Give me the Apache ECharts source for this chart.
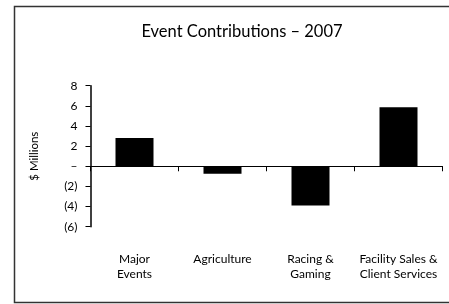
<!DOCTYPE html>
<html>
<head>
<meta charset="utf-8">
<script src="https://cdn.jsdelivr.net/npm/echarts@6/dist/echarts.min.js"></script>
<style>
  html, body { margin: 0; padding: 0; background: #fff; }
  #chart { width: 449px; height: 304px; }
</style>
</head>
<body>
<div id="chart"></div>
<script>
var categories = ['Major\nEvents', 'Agriculture', 'Racing &\nGaming', 'Facility Sales &\nClient Services'];
var contributions = [2.8, -0.75, -3.9, 5.85];
var yTickLabels = {'8': '8', '6': '6', '4': '4', '2': '2', '0': '–', '-2': '(2)', '-4': '(4)', '-6': '(6)'};

var chart = echarts.init(document.getElementById('chart'));
var font = 'Lato, "Noto Sans", sans-serif';

chart.setOption({
    animation: false,
    textStyle: { fontFamily: font, color: '#000' },
    title: {
        text: 'Event Contributions – 2007',
        left: 237,
        top: 18,
        textAlign: 'center',
        textStyle: { fontFamily: font, fontSize: 16.5, fontWeight: 'normal', color: '#000' }
    },
    // frame round the chart (no right edge in the reference)
    graphic: [{
        type: 'polyline',
        shape: { points: [[460, 6.5], [14.5, 6.5], [14.5, 302.5], [460, 302.5]] },
        style: { stroke: '#333', lineWidth: 1.5, fill: null },
        silent: true
    }],
    grid: { left: 90.5, right: 6.5, top: 85.7, bottom: 77.3, containLabel: false, outerBoundsMode: 'none' },
    xAxis: {
        type: 'category',
        data: categories,
        axisLine: { onZero: true, lineStyle: { color: '#000', width: 1 } },
        axisTick: { show: true, length: 5, lineStyle: { color: '#000' } },
        axisLabel: { margin: 25, fontSize: 12, color: '#000', fontFamily: font, lineHeight: 15, interval: 0 },
        splitLine: { show: false }
    },
    yAxis: {
        type: 'value',
        min: -6,
        max: 8,
        interval: 2,
        name: '$ Millions',
        nameLocation: 'middle',
        nameGap: 50,
        nameRotate: 90,
        nameTextStyle: { fontSize: 11.5, color: '#000', fontFamily: font },
        axisLine: { show: true, lineStyle: { color: '#000', width: 1.5 } },
        axisTick: { show: true, length: 5, lineStyle: { color: '#000' } },
        axisLabel: {
            fontSize: 12, color: '#000', fontFamily: font, margin: 13,
            formatter: function (v) { return yTickLabels[String(v)]; }
        },
        splitLine: { show: false }
    },
    series: [{
        type: 'bar',
        data: contributions,
        barWidth: 38,
        itemStyle: { color: '#000' }
    }]
});
</script>
</body>
</html>
